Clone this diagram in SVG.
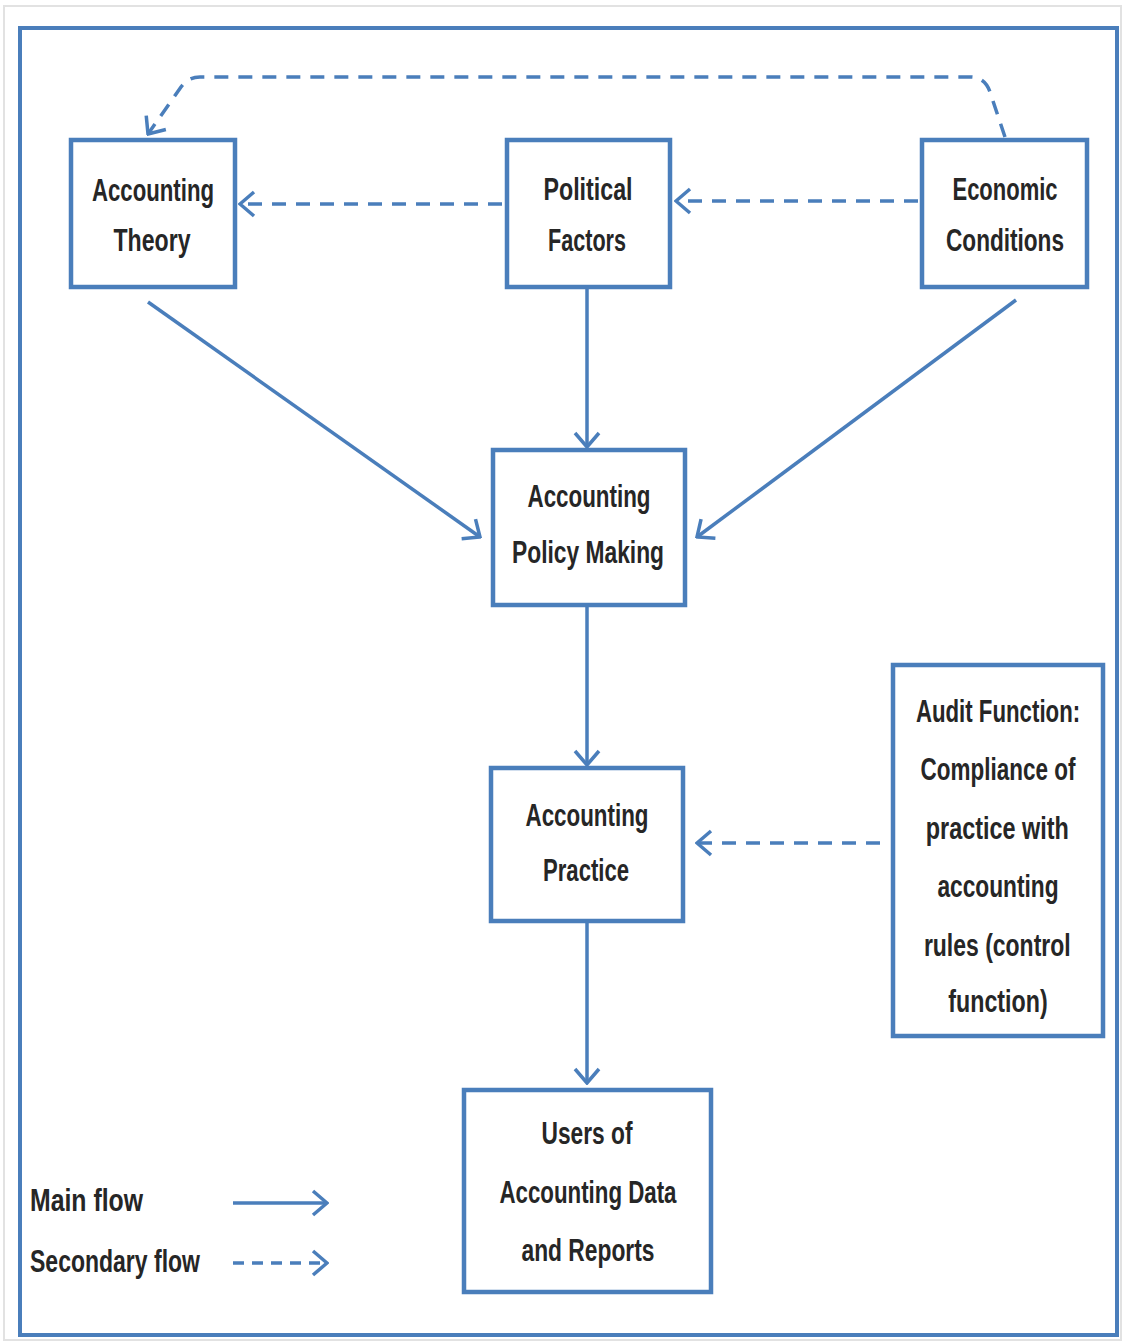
<svg xmlns="http://www.w3.org/2000/svg" width="1123" height="1342" viewBox="0 0 1123 1342">
<style>
.box{fill:#fff;stroke:#4a7ebb;stroke-width:4.5}
.t{font-family:"Liberation Sans",Arial,sans-serif;font-weight:bold;font-size:31px;fill:#262626;text-anchor:middle}
.tl{font-family:"Liberation Sans",Arial,sans-serif;font-weight:bold;font-size:31px;fill:#262626}
.c{fill:none;stroke:#4a7ebb;stroke-width:3.5}
.d{stroke-dasharray:14 10}
.ds{stroke-dasharray:11 8}
</style>
<defs>
<marker id="ah" viewBox="-2 -14 20 28" refX="16" refY="0" markerWidth="20" markerHeight="28" markerUnits="userSpaceOnUse" orient="auto">
<path d="M2,-12 L16,0 L2,12" fill="none" stroke="#4a7ebb" stroke-width="3.5"/>
</marker>
</defs>
<rect x="0" y="0" width="1123" height="1342" fill="#fff"/>
<rect x="4" y="6" width="1117" height="1334" fill="none" stroke="#e2e2e2" stroke-width="2"/>
<rect x="20" y="28" width="1097" height="1307" fill="none" stroke="#4a7ebb" stroke-width="4"/>

<g id="connectors">
<line class="c" x1="148" y1="302" x2="480" y2="537" marker-end="url(#ah)"/>
<line class="c" x1="587" y1="289" x2="587" y2="447" marker-end="url(#ah)"/>
<line class="c" x1="1016" y1="300" x2="697" y2="537" marker-end="url(#ah)"/>
<line class="c" x1="587" y1="607" x2="587" y2="765" marker-end="url(#ah)"/>
<line class="c" x1="587" y1="923" x2="587" y2="1083" marker-end="url(#ah)"/>
<line class="c d" x1="918" y1="201" x2="676" y2="201" marker-end="url(#ah)"/>
<line class="c d" x1="502" y1="204" x2="240" y2="204" marker-end="url(#ah)"/>
<line class="c d" x1="880" y1="843" x2="697" y2="843" marker-end="url(#ah)"/>
<path class="c d" d="M1005,137 L990,92 Q985,77 970,77 L200,77 Q188,77 181,87 L148,134" marker-end="url(#ah)"/>
</g>

<g id="theory">
<rect class="box" x="71" y="140" width="164" height="147"/>
<text class="t" x="153" y="201" textLength="122" lengthAdjust="spacingAndGlyphs">Accounting</text>
<text class="t" x="152" y="251" textLength="77" lengthAdjust="spacingAndGlyphs">Theory</text>
</g>
<g id="political">
<rect class="box" x="507" y="140" width="163" height="147"/>
<text class="t" x="588" y="200" textLength="89" lengthAdjust="spacingAndGlyphs">Political</text>
<text class="t" x="587" y="251" textLength="78" lengthAdjust="spacingAndGlyphs">Factors</text>
</g>
<g id="economic">
<rect class="box" x="922" y="140" width="165" height="147"/>
<text class="t" x="1005" y="200" textLength="105" lengthAdjust="spacingAndGlyphs">Economic</text>
<text class="t" x="1005" y="251" textLength="118" lengthAdjust="spacingAndGlyphs">Conditions</text>
</g>
<g id="policy">
<rect class="box" x="493" y="450" width="192" height="155"/>
<text class="t" x="589" y="507" textLength="123" lengthAdjust="spacingAndGlyphs">Accounting</text>
<text class="t" x="588" y="563" textLength="152" lengthAdjust="spacingAndGlyphs">Policy Making</text>
</g>
<g id="practice">
<rect class="box" x="491" y="768" width="192" height="153"/>
<text class="t" x="587" y="826" textLength="123" lengthAdjust="spacingAndGlyphs">Accounting</text>
<text class="t" x="586" y="881" textLength="86" lengthAdjust="spacingAndGlyphs">Practice</text>
</g>
<g id="audit">
<rect class="box" x="893" y="665" width="210" height="371"/>
<g transform="translate(998,0) scale(0.73,1)">
<text class="t" x="0" y="722" textLength="225" lengthAdjust="spacingAndGlyphs">Audit Function:</text>
<text class="t" x="0" y="780" textLength="212" lengthAdjust="spacingAndGlyphs">Compliance of</text>
<text class="t" x="-1" y="839" textLength="196" lengthAdjust="spacingAndGlyphs">practice with</text>
<text class="t" x="0" y="897" textLength="166" lengthAdjust="spacingAndGlyphs">accounting</text>
<text class="t" x="-1" y="956" textLength="201" lengthAdjust="spacingAndGlyphs">rules (control</text>
<text class="t" x="0" y="1012" textLength="136" lengthAdjust="spacingAndGlyphs">function)</text>
</g>
</g>
<g id="users">
<rect class="box" x="464" y="1090" width="247" height="202"/>
<text class="t" x="587" y="1144" textLength="91" lengthAdjust="spacingAndGlyphs">Users of</text>
<text class="t" x="588" y="1203" textLength="177" lengthAdjust="spacingAndGlyphs">Accounting Data</text>
<text class="t" x="588" y="1261" textLength="133" lengthAdjust="spacingAndGlyphs">and Reports</text>
</g>
<g id="legend">
<text class="tl" x="30" y="1211" textLength="113" lengthAdjust="spacingAndGlyphs">Main flow</text>
<text class="tl" x="30" y="1272" textLength="170" lengthAdjust="spacingAndGlyphs">Secondary flow</text>
<line class="c" x1="233" y1="1203" x2="327" y2="1203" marker-end="url(#ah)"/>
<line class="c ds" x1="233" y1="1263" x2="327" y2="1263" marker-end="url(#ah)"/>
</g>
</svg>
